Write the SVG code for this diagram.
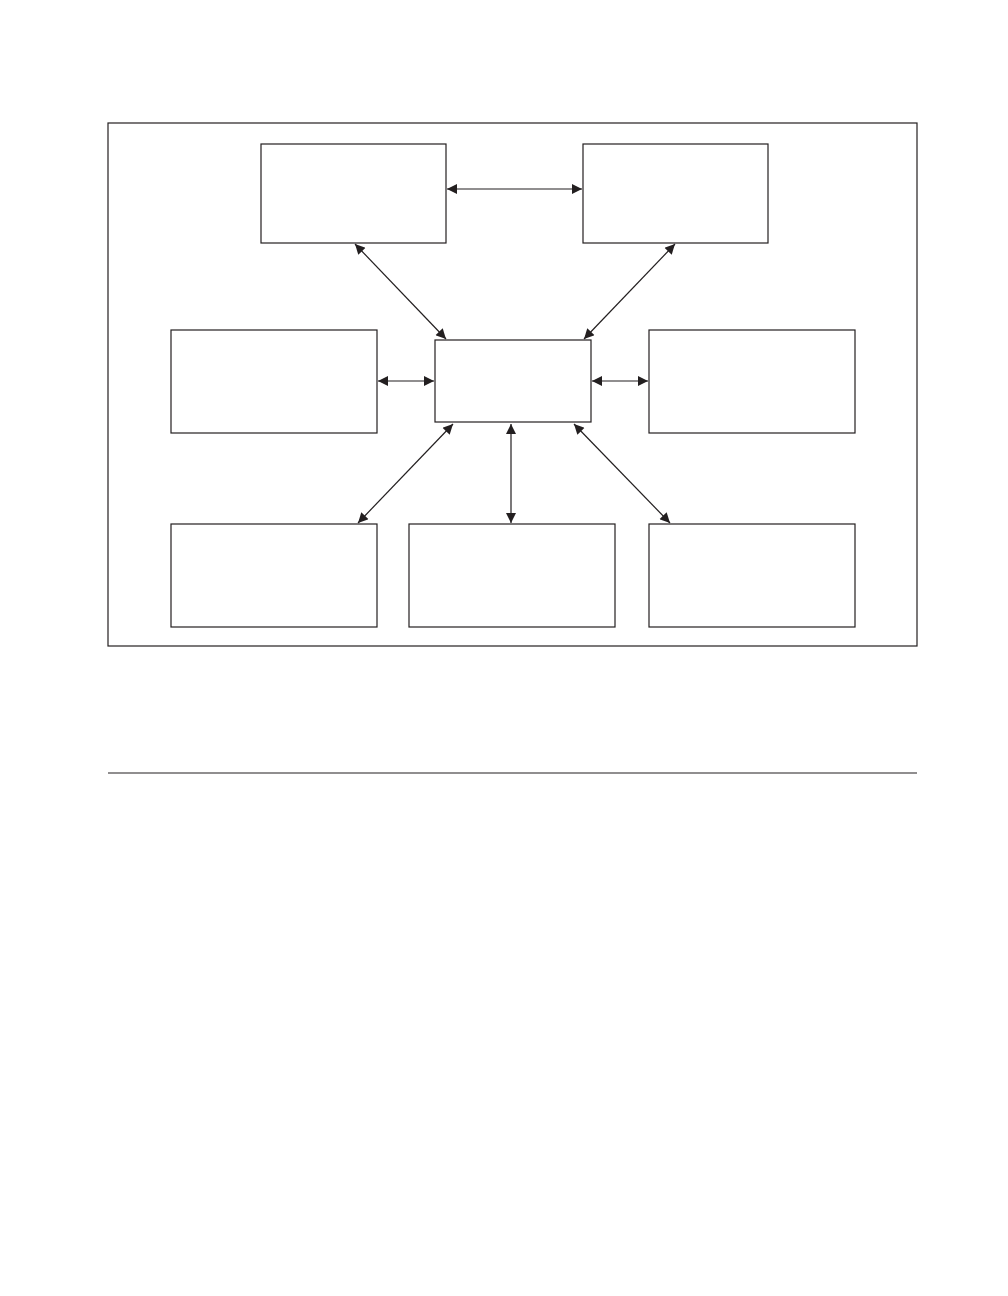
<svg xmlns="http://www.w3.org/2000/svg" width="1008" height="1296" viewBox="0 0 1008 1296">
<style>
.b{fill:#fff;stroke:#231f20;stroke-width:1.2}
.c{stroke:#231f20;stroke-width:1.2;fill:none;marker-start:url(#a);marker-end:url(#a)}
</style>
<defs><marker id="a" viewBox="0 0 10 10" refX="10" refY="5" markerWidth="12" markerHeight="10" markerUnits="userSpaceOnUse" orient="auto-start-reverse"><path d="M0,0 L10,5 L0,10 z" fill="#231f20"/></marker></defs>
<rect width="1008" height="1296" fill="#fff"/>
<rect x="108" y="123" width="809" height="523" class="b"/>
<line x1="108" y1="773" x2="917" y2="773" stroke="#231f20" stroke-width="1.2"/>
<g id="n1"><rect x="261" y="144" width="185" height="99" class="b"/></g>
<g id="n2"><rect x="583" y="144" width="185" height="99" class="b"/></g>
<g id="n3"><rect x="171" y="330" width="206" height="103" class="b"/></g>
<g id="n4"><rect x="435" y="340" width="156" height="82" class="b"/></g>
<g id="n5"><rect x="649" y="330" width="206" height="103" class="b"/></g>
<g id="n6"><rect x="171" y="524" width="206" height="103" class="b"/></g>
<g id="n7"><rect x="409" y="524" width="206" height="103" class="b"/></g>
<g id="n8"><rect x="649" y="524" width="206" height="103" class="b"/></g>
<g id="connectors">
<line x1="447" y1="189" x2="582" y2="189" class="c"/>
<line x1="355" y1="244" x2="446" y2="339" class="c"/>
<line x1="675" y1="244" x2="584" y2="339" class="c"/>
<line x1="378" y1="381" x2="434" y2="381" class="c"/>
<line x1="592" y1="381" x2="648" y2="381" class="c"/>
<line x1="453" y1="424" x2="358" y2="523" class="c"/>
<line x1="511" y1="424" x2="511" y2="523" class="c"/>
<line x1="574" y1="424" x2="670" y2="523" class="c"/>
</g>
</svg>
